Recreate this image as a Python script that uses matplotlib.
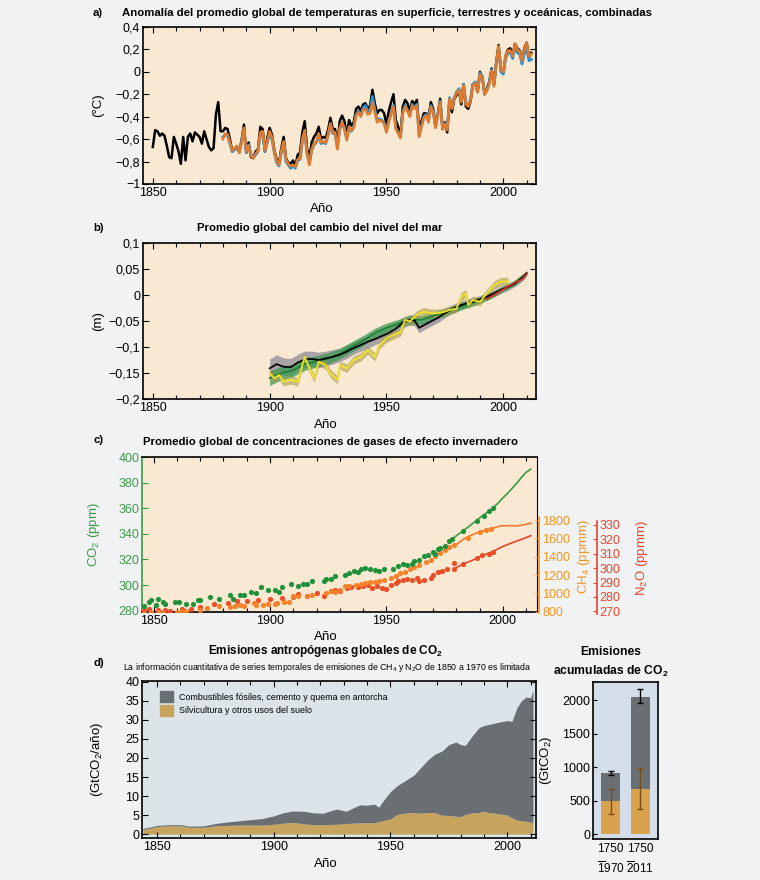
import numpy as np
import matplotlib
matplotlib.use("Agg")
import matplotlib.pyplot as plt
from matplotlib.patches import Patch

plt.rcParams['font.family'] = ['Liberation Sans', 'DejaVu Sans']
plt.rcParams['mathtext.fontset'] = 'custom'
plt.rcParams['mathtext.rm'] = 'Liberation Sans'
plt.rcParams['mathtext.it'] = 'Liberation Sans'
plt.rcParams['mathtext.bf'] = 'Liberation Sans:bold'

# a) temperature anomaly (deg C)
temp_black_start = 1850
temp_black = [
    -0.67, -0.52, -0.53, -0.57, -0.55, -0.57, -0.66, -0.76, -0.77, -0.58,
    -0.64, -0.71, -0.82, -0.58, -0.79, -0.58, -0.55, -0.62, -0.54, -0.56,
    -0.58, -0.64, -0.53, -0.60, -0.67, -0.70, -0.68, -0.38, -0.27, -0.53,
    -0.53, -0.50, -0.51, -0.60, -0.71, -0.69, -0.67, -0.72, -0.61, -0.47,
    -0.72, -0.63, -0.76, -0.77, -0.71, -0.69, -0.49, -0.51, -0.71, -0.59,
    -0.50, -0.56, -0.70, -0.78, -0.82, -0.68, -0.58, -0.77, -0.81, -0.82,
    -0.79, -0.84, -0.74, -0.72, -0.54, -0.44, -0.68, -0.77, -0.63, -0.58,
    -0.55, -0.49, -0.60, -0.58, -0.59, -0.52, -0.41, -0.51, -0.51, -0.65,
    -0.44, -0.39, -0.44, -0.57, -0.43, -0.48, -0.45, -0.33, -0.31, -0.35,
    -0.29, -0.28, -0.33, -0.30, -0.16, -0.28, -0.37, -0.34, -0.34, -0.37,
    -0.47, -0.35, -0.27, -0.20, -0.43, -0.49, -0.57, -0.31, -0.25, -0.28,
    -0.35, -0.26, -0.29, -0.25, -0.52, -0.44, -0.37, -0.37, -0.41, -0.27,
    -0.33, -0.49, -0.37, -0.24, -0.51, -0.45, -0.54, -0.25, -0.36, -0.24,
    -0.21, -0.16, -0.29, -0.11, -0.31, -0.33, -0.26, -0.11, -0.10, -0.18,
    -0.00, -0.05, -0.20, -0.15, -0.09, 0.03, -0.12, 0.09, 0.24, 0.01,
    -0.01, 0.14, 0.20, 0.21, 0.15, 0.25, 0.21, 0.19, 0.10, 0.21,
    0.26, 0.13, 0.17]
temp_other_start = 1880
temp_orange = [
    -0.60, -0.55, -0.56, -0.63, -0.70, -0.68, -0.66, -0.72, -0.63, -0.50,
    -0.71, -0.66, -0.75, -0.77, -0.73, -0.70, -0.54, -0.53, -0.70, -0.62,
    -0.53, -0.58, -0.71, -0.80, -0.83, -0.70, -0.62, -0.78, -0.82, -0.84,
    -0.83, -0.85, -0.78, -0.77, -0.60, -0.52, -0.72, -0.83, -0.69, -0.64,
    -0.62, -0.55, -0.63, -0.62, -0.63, -0.56, -0.46, -0.54, -0.54, -0.69,
    -0.50, -0.45, -0.50, -0.61, -0.49, -0.52, -0.50, -0.39, -0.36, -0.40,
    -0.34, -0.33, -0.38, -0.37, -0.27, -0.36, -0.45, -0.43, -0.44, -0.46,
    -0.54, -0.44, -0.38, -0.31, -0.51, -0.55, -0.59, -0.37, -0.31, -0.35,
    -0.40, -0.30, -0.33, -0.30, -0.58, -0.49, -0.41, -0.39, -0.45, -0.31,
    -0.36, -0.50, -0.39, -0.27, -0.51, -0.47, -0.52, -0.24, -0.33, -0.24,
    -0.19, -0.16, -0.27, -0.12, -0.29, -0.31, -0.25, -0.12, -0.10, -0.18,
    -0.02, -0.05, -0.20, -0.17, -0.11, 0.01, -0.13, 0.08, 0.23, 0.02,
    -0.00, 0.14, 0.19, 0.19, 0.14, 0.25, 0.20, 0.18, 0.10, 0.20,
    0.26, 0.14, 0.16]
temp_blue = [
    -0.58, -0.56, -0.57, -0.64, -0.71, -0.69, -0.67, -0.70, -0.62, -0.51,
    -0.72, -0.65, -0.74, -0.76, -0.74, -0.71, -0.56, -0.55, -0.71, -0.63,
    -0.55, -0.60, -0.72, -0.81, -0.84, -0.72, -0.64, -0.80, -0.83, -0.86,
    -0.84, -0.86, -0.79, -0.78, -0.62, -0.54, -0.73, -0.82, -0.70, -0.65,
    -0.63, -0.56, -0.64, -0.63, -0.64, -0.57, -0.47, -0.55, -0.55, -0.68,
    -0.51, -0.46, -0.51, -0.60, -0.50, -0.53, -0.49, -0.38, -0.35, -0.39,
    -0.32, -0.30, -0.35, -0.34, -0.22, -0.33, -0.43, -0.42, -0.43, -0.45,
    -0.53, -0.43, -0.37, -0.30, -0.50, -0.54, -0.58, -0.36, -0.30, -0.34,
    -0.39, -0.29, -0.32, -0.29, -0.57, -0.48, -0.40, -0.38, -0.44, -0.30,
    -0.35, -0.49, -0.38, -0.26, -0.50, -0.46, -0.51, -0.23, -0.32, -0.23,
    -0.18, -0.15, -0.26, -0.11, -0.28, -0.30, -0.24, -0.11, -0.09, -0.17,
    -0.01, -0.04, -0.19, -0.16, -0.10, 0.02, -0.12, 0.07, 0.20, 0.00,
    -0.02, 0.12, 0.17, 0.17, 0.12, 0.22, 0.17, 0.16, 0.07, 0.16,
    0.21, 0.10, 0.11]

# b) sea level change (m)
sl_black_years = [1900, 1903, 1906, 1909, 1912, 1915, 1918, 1921, 1924, 1927,
                  1930, 1933, 1936, 1939, 1942, 1945, 1948, 1951, 1954, 1957,
                  1960, 1962, 1964, 1966, 1969, 1972, 1975, 1978, 1981, 1984,
                  1987, 1990, 1993, 1996, 1999, 2002, 2005, 2008, 2010]
sl_black = [-0.141, -0.133, -0.138, -0.139, -0.130, -0.124, -0.123, -0.125, -0.122, -0.119,
            -0.115, -0.109, -0.102, -0.096, -0.090, -0.085, -0.079, -0.073, -0.065, -0.053,
            -0.048, -0.049, -0.063, -0.058, -0.051, -0.044, -0.035, -0.027, -0.021, -0.016,
            -0.013, -0.008, -0.003, 0.003, 0.010, 0.015, 0.022, 0.032, 0.042]
sl_black_unc = [0.018, 0.018, 0.017, 0.017, 0.016, 0.016, 0.015, 0.015, 0.014, 0.014,
                0.013, 0.013, 0.012, 0.012, 0.012, 0.011, 0.011, 0.011, 0.010, 0.010,
                0.010, 0.010, 0.010, 0.009, 0.009, 0.009, 0.009, 0.008, 0.008, 0.008,
                0.008, 0.007, 0.007, 0.007, 0.007, 0.006, 0.006, 0.006, 0.006]
sl_green_years = [1900, 1905, 1910, 1915, 1920, 1925, 1930, 1935, 1940, 1945, 1950, 1955,
                  1960, 1965, 1970, 1975, 1980, 1985, 1990, 1995, 2000, 2005, 2009]
sl_green = [-0.160, -0.150, -0.145, -0.133, -0.128, -0.122, -0.113, -0.100, -0.088, -0.073,
            -0.063, -0.055, -0.047, -0.048, -0.040, -0.034, -0.025, -0.018, -0.010, 0.000,
            0.012, 0.024, 0.038]
sl_green_unc = [0.014, 0.013, 0.012, 0.012, 0.011, 0.011, 0.010, 0.010, 0.010, 0.009,
                0.009, 0.008, 0.008, 0.008, 0.007, 0.007, 0.007, 0.006, 0.006, 0.006,
                0.005, 0.005, 0.005]
sl_yellow_years = [1900, 1902, 1904, 1906, 1909, 1912, 1915, 1917, 1919, 1921,
                   1924, 1926, 1929, 1930, 1933, 1936, 1939, 1942, 1945, 1947,
                   1950, 1953, 1956, 1958, 1960, 1963, 1966, 1969, 1972, 1975,
                   1977, 1980, 1982, 1984, 1985, 1987, 1990, 1993, 1996, 1999, 2002]
sl_yellow = [-0.151, -0.160, -0.154, -0.167, -0.163, -0.167, -0.119, -0.141, -0.160, -0.128,
             -0.135, -0.151, -0.163, -0.135, -0.141, -0.125, -0.119, -0.106, -0.119, -0.096,
             -0.083, -0.077, -0.071, -0.048, -0.051, -0.038, -0.032, -0.035, -0.035, -0.032,
             -0.029, -0.026, -0.003, 0.003, -0.019, -0.010, -0.013, 0.003, 0.019, 0.026, 0.026]
sl_yellow_unc = 0.008
sl_red_years = [1993, 1996, 1999, 2002, 2005, 2008, 2010]
sl_red = [-0.008, 0.000, 0.008, 0.016, 0.024, 0.030, 0.040]

# c) greenhouse gas concentrations
co2_dot_years = [1846, 1848, 1849, 1851, 1852, 1854, 1855, 1859, 1861, 1864,
                 1867, 1869, 1870, 1874, 1878, 1883, 1884, 1887, 1889, 1892,
                 1894, 1896, 1899, 1902, 1904, 1905, 1909, 1912, 1914, 1916,
                 1918, 1923, 1924, 1926, 1928, 1932, 1934, 1936, 1938, 1939,
                 1941, 1943, 1945, 1947, 1949, 1953, 1955, 1957, 1959, 1961,
                 1962, 1964, 1966, 1968, 1970, 1971, 1972, 1973, 1975, 1977,
                 1978, 1983, 1989, 1992, 1994, 1996]
co2_dot_ppm = [284, 286.7, 288, 284.6, 288.8, 287, 285, 286.8, 286.8, 285.5,
               285.5, 288, 288, 290.7, 288.8, 291.9, 289.3, 291.9, 292.4, 294.5,
               294, 298.4, 295.8, 295.8, 295, 298.9, 301, 299.2, 301, 301,
               303.5, 303.5, 304.8, 304.8, 307.4, 307.9, 309.4, 311.2, 310.5, 312.5,
               313.1, 312.5, 312, 311.2, 312.5, 312.5, 315, 316.4, 315.6, 316.4,
               319, 319.7, 322.8, 323.4, 325.5, 324.5, 328, 329.3, 330.6, 334.4,
               335.8, 342.2, 349.9, 353.8, 357.7, 360.3]
co2_line_years = [1978, 1980, 1983, 1986, 1989, 1992, 1995, 1998, 2000, 2002, 2004, 2006, 2008, 2010, 2012]
co2_line_ppm = [335.5, 338.5, 342.5, 346.5, 351, 355, 359, 364, 368, 371.5, 375.5, 379.5, 384, 388, 390.5]

ch4_dot_years = [1846, 1849, 1852, 1854, 1860, 1862, 1864, 1870, 1873, 1878,
                 1883, 1885, 1887, 1889, 1893, 1894, 1897, 1899, 1902, 1903,
                 1906, 1908, 1910, 1912, 1916, 1918, 1924, 1926, 1928, 1930,
                 1932, 1934, 1937, 1939, 1941, 1943, 1945, 1947, 1949, 1952,
                 1954, 1956, 1958, 1960, 1962, 1964, 1967, 1969, 1971, 1973,
                 1975, 1977, 1979, 1985, 1990, 1993, 1995]
ch4_dot_ppb = [782, 800, 795, 790, 800, 812, 812, 818, 837, 862,
               855, 862, 873, 862, 895, 876, 876, 887, 887, 895,
               909, 909, 966, 966, 966, 985, 1003, 1021, 1010, 1040,
               1076, 1083, 1094, 1105, 1112, 1119, 1119, 1130, 1141, 1166,
               1191, 1220, 1238, 1264, 1293, 1312, 1337, 1367, 1403, 1440,
               1476, 1505, 1530, 1600, 1664, 1686, 1701]
ch4_line_years = [1979, 1983, 1986, 1989, 1992, 1995, 1999, 2003, 2006, 2009, 2012]
ch4_line_ppb = [1512, 1590, 1630, 1660, 1685, 1705, 1736, 1738, 1736, 1748, 1765]

n2o_dot_years = [1846, 1848, 1852, 1855, 1857, 1862, 1866, 1870, 1876, 1882,
                 1886, 1890, 1895, 1900, 1905, 1910, 1912, 1916, 1920, 1923,
                 1926, 1928, 1930, 1933, 1935, 1938, 1940, 1942, 1944, 1946,
                 1948, 1950, 1952, 1954, 1955, 1957, 1959, 1961, 1963, 1964,
                 1966, 1969, 1970, 1972, 1974, 1976, 1979, 1979, 1983, 1989,
                 1991, 1994, 1996]
n2o_dot_ppb = [271, 272, 271, 271, 270.5, 271.5, 272, 273, 275, 276,
               277, 277, 278, 278.5, 279.5, 280, 282, 281, 283, 281,
               284, 285, 284, 286, 286.6, 286.6, 287.3, 288, 286.1, 287.3,
               286.1, 285.6, 288.4, 289.6, 290.8, 291.9, 292.6, 291.9, 293.1, 291.2,
               291.9, 293.1, 295.3, 297.2, 298.1, 299.5, 303.4, 299.5, 302.8, 306.9,
               308.8, 309.7, 311.1]
n2o_line_years = [1979, 1983, 1987, 1991, 1995, 2000, 2005, 2009, 2012]
n2o_line_ppb = [299.5, 302.8, 305.5, 308.5, 311, 315, 318.2, 320.5, 322.5]

# d) anthropogenic CO2 emissions (GtCO2/yr)
em_years = [1844, 1850, 1855, 1860, 1864, 1870, 1875, 1880, 1885, 1890,
            1895, 1900, 1904, 1908, 1913, 1917, 1921, 1927, 1931, 1934,
            1937, 1940, 1943, 1945, 1947, 1950, 1953, 1957, 1960, 1963,
            1966, 1969, 1972, 1975, 1978, 1980, 1982, 1985, 1988, 1990,
            1992, 1995, 1998, 2000, 2002, 2004, 2006, 2008, 2010, 2011]
em_land = [1.2, 2.0, 2.2, 2.2, 1.8, 1.8, 2.2, 2.3, 2.4, 2.4,
           2.4, 2.6, 2.9, 3.1, 2.7, 2.5, 2.5, 2.6, 2.8, 2.9,
           3.0, 3.0, 3.0, 3.3, 3.6, 4.0, 5.2, 5.6, 5.7, 5.5,
           5.7, 5.6, 5.0, 4.9, 4.7, 4.6, 5.2, 5.6, 5.7, 6.0,
           5.7, 5.5, 5.2, 5.0, 4.3, 3.7, 3.6, 3.4, 3.2, 3.0]
em_fossil = [0.3, 0.3, 0.3, 0.3, 0.3, 0.4, 0.6, 0.9, 1.1, 1.4,
             1.7, 2.2, 2.7, 3.0, 3.3, 3.1, 3.0, 4.0, 3.2, 4.0,
             4.7, 4.6, 4.9, 3.8, 5.3, 7.2, 7.6, 8.7, 9.8, 12.0,
             13.8, 15.4, 16.8, 18.6, 19.5, 18.9, 18.1, 20.2, 22.3, 22.5,
             23.1, 23.7, 24.4, 24.8, 25.3, 29.3, 31.4, 32.6, 32.6, 34.8]

# cumulative emissions (GtCO2)
cum_labels = ['1750\n$\\overline{1}$970', '1750\n$\\overline{2}$011']
cum_land = [490, 680]
cum_land_lo = [310, 380]
cum_land_hi = [670, 990]
cum_fossil = [425, 1370]
cum_total_lo = [885, 1955]
cum_total_hi = [950, 2170]

PEACH = '#f9e8d2'
GREEN = '#3a9a45'
ORANGE = '#f7941d'
RED = '#e8452c'
GRAY = '#6a6f73'
TAN = '#c7a45e'
TS = 8.2   # title size
KS = 9     # tick size
LS = 9.5   # axis label size

fig = plt.figure(figsize=(7.6, 8.8), dpi=100, facecolor='#f1f2f4')


def px_axes(l, t, r, b):
    return fig.add_axes([l / 760, 1 - b / 880, (r - l) / 760, (b - t) / 880])


def style_time(ax, xlim):
    ax.set_xlim(xlim)
    ax.set_xticks([1850, 1900, 1950, 2000])
    ax.set_xticks(np.arange(1850, 2011, 10), minor=True)
    ax.tick_params(which='both', direction='in', top=True, right=True,
                   labelsize=KS, length=4, width=0.8, pad=2)
    ax.tick_params(which='minor', length=3)
    for s in ax.spines.values():
        s.set_linewidth(1.2)
    ax.set_xlabel('Año', fontsize=LS)


def ftxt(x, y, s, **kw):
    fig.text(x / 760, 1 - y / 880, s, va='center', **kw)


# ---- panel a
ax_a = px_axes(143, 27, 536, 184)
ax_a.set_facecolor(PEACH)
ax_a.plot(range(temp_black_start, temp_black_start + len(temp_black)), temp_black, color='black', lw=1.8)
ax_a.plot(range(temp_other_start, temp_other_start + len(temp_blue)), temp_blue, color='#2b8fcb', lw=2.0)
ax_a.plot(range(temp_other_start, temp_other_start + len(temp_orange)), temp_orange, color='#e07a2e', lw=1.9)
style_time(ax_a, (1845.8, 2014))
ax_a.set_ylim(-1, 0.4)
ax_a.set_yticks([-1, -0.8, -0.6, -0.4, -0.2, 0, 0.2, 0.4])
ax_a.set_yticklabels(['\u22121', '\u22120,8', '\u22120,6', '\u22120,4', '\u22120,2', '0', '0,2', '0,4'])
ax_a.set_ylabel('(°C)', fontsize=LS)
ax_a.yaxis.set_label_coords(-0.1, 0.5)
ax_a.xaxis.set_label_coords(0.455, -0.12)
ftxt(93, 13, 'a)', fontsize=TS, fontweight='bold')
ftxt(122, 13, 'Anomalía del promedio global de temperaturas en superficie, terrestres y oceánicas, combinadas',
     fontsize=TS, fontweight='bold')

# ---- panel b
ax_b = px_axes(143, 243, 536, 399)
ax_b.set_facecolor(PEACH)
sb = np.array(sl_black)
sbu = np.array(sl_black_unc)
ax_b.fill_between(sl_black_years, sb - sbu, sb + sbu, color='#8f8c96', alpha=0.75, lw=0)
sg = np.array(sl_green)
sgu = np.array(sl_green_unc)
ax_b.fill_between(sl_green_years, sg - sgu, sg + sgu, color='#3c9a52', alpha=0.75, lw=0)
sy = np.array(sl_yellow)
ax_b.fill_between(sl_yellow_years, sy - sl_yellow_unc, sy + sl_yellow_unc, color='#a99b48', alpha=0.6, lw=0)
ax_b.plot(sl_green_years, sl_green, color='#1d7d35', lw=1.2)
ax_b.plot(sl_black_years, sl_black, color='black', lw=1.3)
ax_b.plot(sl_yellow_years, sl_yellow, color='#efe42b', lw=1.3)
ax_b.plot(sl_red_years, sl_red, color='#d7322a', lw=1.3)
style_time(ax_b, (1845.8, 2014))
ax_b.set_ylim(-0.2, 0.1)
ax_b.set_yticks([-0.2, -0.15, -0.1, -0.05, 0, 0.05, 0.1])
ax_b.set_yticklabels(['\u22120,2', '\u22120,15', '\u22120,1', '\u22120,05', '0', '0,05', '0,1'])
ax_b.set_ylabel('(m)', fontsize=LS)
ax_b.yaxis.set_label_coords(-0.1, 0.5)
ax_b.xaxis.set_label_coords(0.466, -0.128)
ftxt(93, 228, 'b)', fontsize=TS, fontweight='bold')
ftxt(320, 228, 'Promedio global del cambio del nivel del mar', fontsize=TS, fontweight='bold', ha='center')

# ---- panel c
ax_c = px_axes(142, 457, 537, 612)
ax_c.set_facecolor(PEACH)
style_time(ax_c, (1845, 2014.7))
ax_c.tick_params(axis='y', which='both', right=False, colors=GREEN, labelcolor=GREEN)
ax_c.spines['left'].set_color(GREEN)
ax_c.spines['right'].set_linewidth(0.8)
ax_c.set_ylim(279, 400)
ax_c.set_yticks([280, 300, 320, 340, 360, 380, 400])
ax_c.set_ylabel('CO$_2$ (ppm)', color=GREEN, fontsize=LS)
ax_c.yaxis.set_label_coords(-0.1, 0.5)
ax_c.xaxis.set_label_coords(0.466, -0.12)

ax_ch4 = ax_c.twinx()
ax_ch4.set_ylim(797, 2487)
ax_ch4.set_yticks([800, 1000, 1200, 1400, 1600, 1800])
ax_ch4.spines['right'].set_position(('axes', 1.006))
ax_ch4.spines['right'].set_bounds(790, 1830)
ax_ch4.spines['right'].set_color(ORANGE)
ax_ch4.spines['right'].set_linewidth(1.2)
for s in ['left', 'top', 'bottom']:
    ax_ch4.spines[s].set_visible(False)
ax_ch4.tick_params(axis='y', colors=ORANGE, labelcolor=ORANGE, labelsize=KS, direction='in', length=3, pad=2)
ax_ch4.set_ylabel('CH$_4$ (ppmm)', color=ORANGE, fontsize=LS)
ax_ch4.yaxis.set_label_coords(1.098, 0.36)

ax_n2o = ax_c.twinx()
ax_n2o.set_ylim(269.6, 377)
ax_n2o.set_yticks([270, 280, 290, 300, 310, 320, 330])
ax_n2o.spines['right'].set_position(('axes', 1.151))
ax_n2o.spines['right'].set_bounds(268, 333)
ax_n2o.spines['right'].set_color(RED)
ax_n2o.spines['right'].set_linewidth(1.2)
for s in ['left', 'top', 'bottom']:
    ax_n2o.spines[s].set_visible(False)
ax_n2o.tick_params(axis='y', colors=RED, labelcolor=RED, labelsize=KS, direction='in', length=3, pad=2)
ax_n2o.set_ylabel('N$_2$O (ppmm)', color=RED, fontsize=LS)
ax_n2o.yaxis.set_label_coords(1.245, 0.35)

ax_n2o.scatter(n2o_dot_years, n2o_dot_ppb, s=14, color='#ea4e26', lw=0, zorder=3)
ax_n2o.plot(n2o_line_years, n2o_line_ppb, color='#e2452a', lw=1.2)
ax_ch4.scatter(ch4_dot_years, ch4_dot_ppb, s=14, color='#f8812a', lw=0, zorder=3)
ax_ch4.plot(ch4_line_years, ch4_line_ppb, color='#f7782a', lw=1.2)
ax_ch4.set_zorder(ax_n2o.get_zorder() + 1)
ax_co2 = ax_c.twinx()
ax_co2.set_ylim(ax_c.get_ylim())
ax_co2.axis('off')
ax_co2.scatter(co2_dot_years, co2_dot_ppm, s=14, color='#1f9139', lw=0, zorder=3)
ax_co2.plot(co2_line_years, co2_line_ppm, color='#3a9a45', lw=1.2)
ax_co2.set_zorder(ax_ch4.get_zorder() + 1)
ftxt(93, 440, 'c)', fontsize=TS, fontweight='bold')
ftxt(143, 442, 'Promedio global de concentraciones de gases de efecto invernadero', fontsize=TS, fontweight='bold')

# ---- panel d
ax_d = px_axes(142, 681, 536, 838)
ax_d.set_facecolor('#dbe4e8')
land = np.array(em_land)
total = land + np.array(em_fossil)
ax_d.fill_between(em_years, 0, land, color=TAN, lw=0)
ax_d.fill_between(em_years, land, total, color=GRAY, lw=0)
style_time(ax_d, (1843.6, 2012.3))
ax_d.set_ylim(-1, 40.2)
ax_d.set_yticks(np.arange(0, 41, 5))
ax_d.set_ylabel('(GtCO$_2$/año)', fontsize=LS)
ax_d.yaxis.set_label_coords(-0.094, 0.5)
ax_d.xaxis.set_label_coords(0.466, -0.127)
ax_d.legend(handles=[Patch(color=GRAY, label='Combustibles fósiles, cemento y quema en antorcha'),
                     Patch(color=TAN, label='Silvicultura y otros usos del suelo')],
            loc='upper left', bbox_to_anchor=(0.025, 0.985), frameon=False, fontsize=6.4,
            handlelength=1.5, handleheight=1.5, handletextpad=0.6, labelspacing=0.3)
ftxt(93, 663, 'd)', fontsize=TS, fontweight='bold')
ftxt(325, 651, 'Emisiones antropógenas globales de CO$_\\mathbf{2}$', fontsize=TS + 0.3, fontweight='bold', ha='center')
ftxt(123, 667, 'La información cuantitativa de series temporales de emisiones de CH$_4$ y N$_2$O de 1850 a 1970 es limitada',
     fontsize=6.3)

# ---- cumulative bars
ax_e = px_axes(593, 682, 658, 839)
ax_e.set_facecolor('#d4deea')
x = np.arange(len(cum_labels))
ax_e.bar(x, cum_land, width=0.64, color='#d8a24e', lw=0)
ax_e.bar(x, cum_fossil, bottom=cum_land, width=0.64, color=GRAY, lw=0)
ctot = np.array(cum_land) + np.array(cum_fossil)
ax_e.errorbar(x, ctot, yerr=[ctot - np.array(cum_total_lo), np.array(cum_total_hi) - ctot],
              fmt='none', ecolor='black', elinewidth=1, capsize=2)
ax_e.errorbar(x, cum_land, yerr=[np.array(cum_land) - np.array(cum_land_lo), np.array(cum_land_hi) - np.array(cum_land)],
              fmt='none', ecolor='#7a4f14', elinewidth=1, capsize=2)
ax_e.set_xlim(-0.6, 1.6)
ax_e.set_ylim(-70, 2270)
ax_e.set_yticks([0, 500, 1000, 1500, 2000])
ax_e.set_xticks(x)
ax_e.set_xticklabels(cum_labels, fontsize=8.5, linespacing=1.4)
ax_e.tick_params(axis='x', length=0, pad=3)
ax_e.tick_params(axis='y', direction='in', labelsize=KS, length=3, pad=2)
for s in ax_e.spines.values():
    s.set_linewidth(1.2)
ax_e.set_ylabel('(GtCO$_2$)', fontsize=LS)
ax_e.yaxis.set_label_coords(-0.6, 0.5)
ftxt(611, 652, 'Emisiones', fontsize=TS + 0.5, fontweight='bold', ha='center')
ftxt(611, 671, 'acumuladas de CO$_\\mathbf{2}$', fontsize=TS + 0.5, fontweight='bold', ha='center')

fig.savefig('out.png', dpi=100, facecolor=fig.get_facecolor())
